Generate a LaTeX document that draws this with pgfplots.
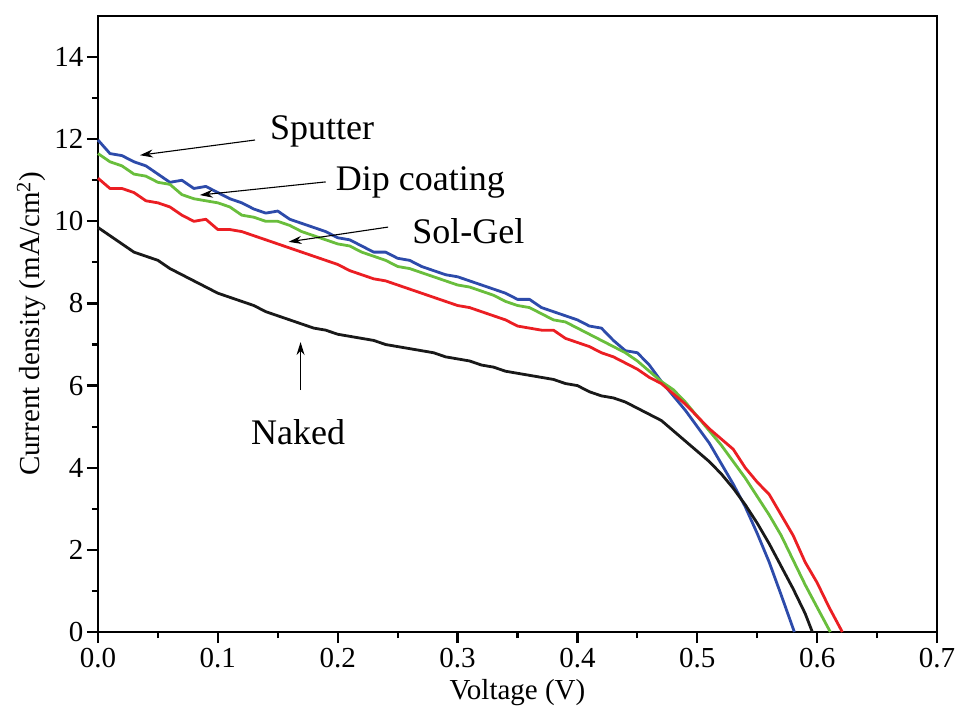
\documentclass[border=0pt]{standalone}
\usepackage{fontspec}
\setmainfont{Liberation Serif}
\usepackage{pgfplots}
\usepackage{pgfplotstable}
\pgfplotsset{compat=1.18}
\usetikzlibrary{arrows.meta}

\definecolor{cblue}{RGB}{45,75,170}
\definecolor{cgreen}{RGB}{105,190,60}
\definecolor{cred}{RGB}{235,30,35}
\definecolor{cblack}{RGB}{25,25,25}

% Sputter
\pgfplotstableread{
V J
0.00 11.98
0.01 11.65
0.02 11.60
0.03 11.45
0.04 11.35
0.05 11.15
0.06 10.95
0.07 11.00
0.08 10.80
0.09 10.85
0.10 10.70
0.11 10.55
0.12 10.45
0.13 10.30
0.14 10.20
0.15 10.25
0.16 10.05
0.17 9.95
0.18 9.85
0.19 9.75
0.20 9.60
0.21 9.55
0.22 9.40
0.23 9.25
0.24 9.25
0.25 9.10
0.26 9.05
0.27 8.90
0.28 8.80
0.29 8.70
0.30 8.65
0.31 8.55
0.32 8.45
0.33 8.35
0.34 8.25
0.35 8.10
0.36 8.10
0.37 7.90
0.38 7.80
0.39 7.70
0.40 7.60
0.41 7.45
0.42 7.40
0.43 7.10
0.44 6.85
0.45 6.80
0.46 6.50
0.47 6.10
0.48 5.75
0.49 5.40
0.50 5.00
0.51 4.60
0.52 4.10
0.53 3.60
0.54 3.05
0.55 2.40
0.56 1.70
0.57 0.90
0.581 0.00
}\sputter

% Dip coating
\pgfplotstableread{
V J
0.00 11.65
0.01 11.45
0.02 11.35
0.03 11.15
0.04 11.10
0.05 10.95
0.06 10.90
0.07 10.65
0.08 10.55
0.09 10.50
0.10 10.45
0.11 10.35
0.12 10.15
0.13 10.10
0.14 10.00
0.15 10.00
0.16 9.90
0.17 9.75
0.18 9.65
0.19 9.55
0.20 9.45
0.21 9.40
0.22 9.25
0.23 9.15
0.24 9.05
0.25 8.90
0.26 8.85
0.27 8.75
0.28 8.65
0.29 8.55
0.30 8.45
0.31 8.40
0.32 8.30
0.33 8.20
0.34 8.05
0.35 7.95
0.36 7.90
0.37 7.75
0.38 7.60
0.39 7.55
0.40 7.40
0.41 7.25
0.42 7.10
0.43 6.95
0.44 6.80
0.45 6.60
0.46 6.35
0.47 6.10
0.48 5.90
0.49 5.60
0.50 5.25
0.51 4.90
0.52 4.55
0.53 4.15
0.54 3.75
0.55 3.30
0.56 2.85
0.57 2.35
0.58 1.75
0.59 1.15
0.60 0.60
0.611 0.00
}\dip

% Sol-Gel
\pgfplotstableread{
V J
0.00 11.05
0.01 10.80
0.02 10.80
0.03 10.70
0.04 10.50
0.05 10.45
0.06 10.35
0.07 10.15
0.08 10.00
0.09 10.05
0.10 9.80
0.11 9.80
0.12 9.75
0.13 9.65
0.14 9.55
0.15 9.45
0.16 9.35
0.17 9.25
0.18 9.15
0.19 9.05
0.20 8.95
0.21 8.80
0.22 8.70
0.23 8.60
0.24 8.55
0.25 8.45
0.26 8.35
0.27 8.25
0.28 8.15
0.29 8.05
0.30 7.95
0.31 7.90
0.32 7.80
0.33 7.70
0.34 7.60
0.35 7.45
0.36 7.40
0.37 7.35
0.38 7.35
0.39 7.15
0.40 7.05
0.41 6.95
0.42 6.80
0.43 6.70
0.44 6.55
0.45 6.40
0.46 6.20
0.47 6.05
0.48 5.80
0.49 5.55
0.50 5.25
0.51 4.95
0.52 4.70
0.53 4.45
0.54 4.00
0.55 3.65
0.56 3.35
0.57 2.85
0.58 2.35
0.59 1.70
0.60 1.20
0.61 0.60
0.621 0.00
}\solgel

% Naked
\pgfplotstableread{
V J
0.00 9.85
0.01 9.65
0.02 9.45
0.03 9.25
0.04 9.15
0.05 9.05
0.06 8.85
0.07 8.70
0.08 8.55
0.09 8.40
0.10 8.25
0.11 8.15
0.12 8.05
0.13 7.95
0.14 7.80
0.15 7.70
0.16 7.60
0.17 7.50
0.18 7.40
0.19 7.35
0.20 7.25
0.21 7.20
0.22 7.15
0.23 7.10
0.24 7.00
0.25 6.95
0.26 6.90
0.27 6.85
0.28 6.80
0.29 6.70
0.30 6.65
0.31 6.60
0.32 6.50
0.33 6.45
0.34 6.35
0.35 6.30
0.36 6.25
0.37 6.20
0.38 6.15
0.39 6.05
0.40 6.00
0.41 5.85
0.42 5.75
0.43 5.70
0.44 5.60
0.45 5.45
0.46 5.30
0.47 5.15
0.48 4.90
0.49 4.65
0.50 4.40
0.51 4.15
0.52 3.85
0.53 3.50
0.54 3.10
0.55 2.65
0.56 2.15
0.57 1.60
0.58 1.05
0.59 0.45
0.596 0.00
}\naked

\begin{document}
\begin{tikzpicture}
\begin{axis}[
  scale only axis,
  width=839pt, height=616pt,
  xmin=0, xmax=0.7, ymin=0, ymax=15,
  xtick={0,0.1,...,0.7},
  ytick={0,2,...,14},
  minor x tick num=1,
  minor y tick num=1,
  tick pos=left,
  tick align=outside,
  major tick length=11pt,
  minor tick length=6pt,
  every tick/.style={line width=2.2pt, black},
  axis line style={line width=2.6pt},
  xticklabel style={/pgf/number format/fixed, /pgf/number format/fixed zerofill, /pgf/number format/precision=1, yshift=-2pt},
  /pgf/number format/assume math mode=true,
  tick label style={font=\fontsize{29}{32}\selectfont},
  label style={font=\fontsize{29}{32}\selectfont},
  xlabel={Voltage (V)},
  ylabel={Current density (mA/cm\textsuperscript{2})},
  xlabel style={yshift=-4pt},
  ylabel style={yshift=2pt},
  every axis plot/.style={line width=2.8pt, line join=round},
  clip=false,
]
\addplot[cblue] table[x=V, y=J] {\sputter};
\addplot[cgreen] table[x=V, y=J] {\dip};
\addplot[cred] table[x=V, y=J] {\solgel};
\addplot[cblack] table[x=V, y=J] {\naked};

\tikzset{ann/.style={font=\fontsize{36}{40}\selectfont}, arr/.style={line width=1.1pt, -{Stealth[length=13pt,width=8pt]}}}
\node[ann] at (axis cs:0.187,12.2) {Sputter};
\draw[arr] (axis cs:0.131,11.98) -- (axis cs:0.035,11.61);
\node[ann] at (axis cs:0.269,10.95) {Dip coating};
\draw[arr] (axis cs:0.190,10.96) -- (axis cs:0.085,10.64);
\node[ann] at (axis cs:0.309,9.75) {Sol-Gel};
\draw[arr] (axis cs:0.242,9.86) -- (axis cs:0.159,9.50);
\node[ann] at (axis cs:0.167,4.87) {Naked};
\draw[arr] (axis cs:0.169,5.89) -- (axis cs:0.169,7.06);
\end{axis}
\pgfresetboundingbox
\path[use as bounding box] ([shift={(-98pt,-82pt)}]current axis.south west) rectangle ([shift={(19pt,16pt)}]current axis.north east);
\end{tikzpicture}
\end{document}
